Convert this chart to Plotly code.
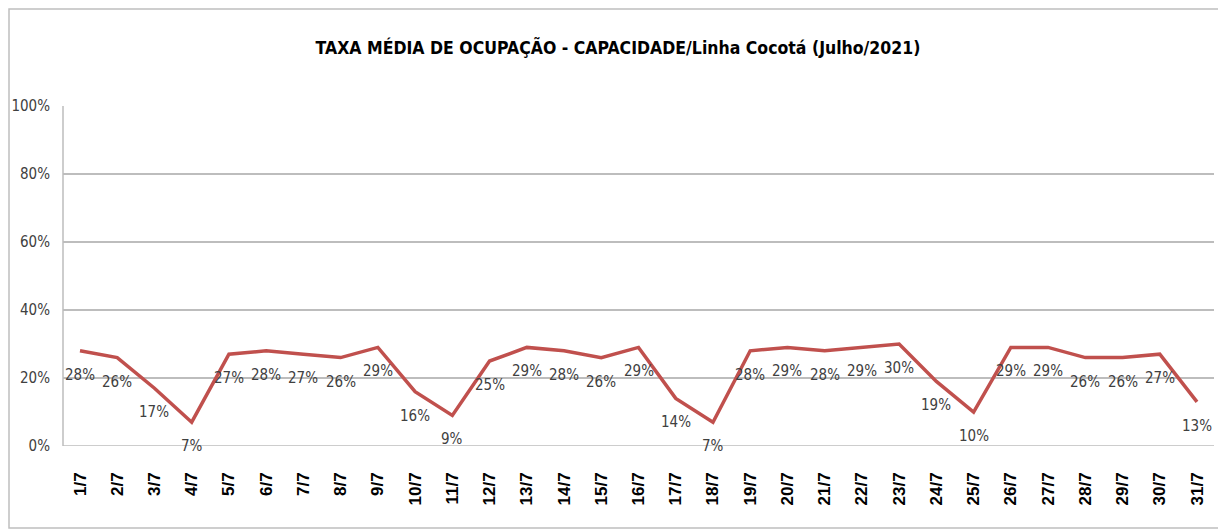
import plotly.graph_objects as go

days = [f"{d}/7" for d in range(1, 32)]
values = [28, 26, 17, 7, 27, 28, 27, 26, 29, 16, 9, 25, 29, 28, 26, 29, 14, 7,
          28, 29, 28, 29, 30, 19, 10, 29, 29, 26, 26, 27, 13]
y_ticks = [0, 20, 40, 60, 80, 100]
y_tick_labels = [f"{v}%" for v in y_ticks]
title_text = "TAXA MÉDIA DE OCUPAÇÃO - CAPACIDADE/Linha Cocotá (Julho/2021)"

FONT = "DejaVu Sans Condensed, Liberation Sans Narrow, sans-serif"

fig = go.Figure()
fig.add_trace(go.Scatter(
    x=days, y=values, mode="lines",
    line=dict(color="#C0504D", width=3.5),
    hoverinfo="skip",
))

annotations = [
    dict(x=d, y=v, xref="x", yref="y", text=f"{v}%", showarrow=False,
         yshift=-24, yanchor="middle", xanchor="center",
         font=dict(family=FONT, size=15, color="#404040"))
    for d, v in zip(days, values)
]

# page body has an 8px offset
OFF = 8
W, H = 1226 - OFF, 530 - OFF
L, R = 63 - OFF, 12
T = 106 - OFF
B = H - (446 - OFF)
pw, ph = W - L - R, H - T - B

def px(p):
    return (p - OFF - L) / pw

def py(p):
    return (446 - p) / ph

fig.update_layout(
    width=W, height=H,
    margin=dict(l=L, r=R, t=T, b=B),
    paper_bgcolor="white", plot_bgcolor="white",
    showlegend=False,
    annotations=annotations,
    title=dict(text=f"<b>{title_text}</b>", x=px(618), xref="paper", xanchor="center",
               y=1 - (48 - OFF) / H, yanchor="middle",
               font=dict(family=FONT, size=17.5, color="#000000")),
    xaxis=dict(type="category", tickangle=-90, showgrid=False, automargin=False,
               showline=False, ticks="", zeroline=False,
               tickfont=dict(family="Liberation Sans, Arial, sans-serif", size=17,
                             color="#000000", weight="bold"),
               ticklabelstandoff=22),
    yaxis=dict(range=[0, 100], tickvals=y_ticks, ticktext=y_tick_labels, automargin=False,
               showgrid=True, gridcolor="#BDBDBD", gridwidth=1.5,
               zeroline=False, showline=False, ticks="",
               tickfont=dict(family=FONT, size=15, color="#404040"),
               ticklabelstandoff=12),
    shapes=[
        dict(type="line", xref="paper", yref="y", x0=0, x1=1, y0=0, y1=0,
             line=dict(color="#BDBDBD", width=1.5)),
        dict(type="line", xref="paper", yref="paper", x0=0, x1=0, y0=0, y1=1,
             line=dict(color="#BDBDBD", width=1.5)),
        dict(type="rect", xref="paper", yref="paper",
             x0=px(9), x1=px(1240), y0=py(528), y1=py(9),
             line=dict(color="#BFBFBF", width=1.5), layer="below"),
    ],
)

fig.write_html("out.html")
